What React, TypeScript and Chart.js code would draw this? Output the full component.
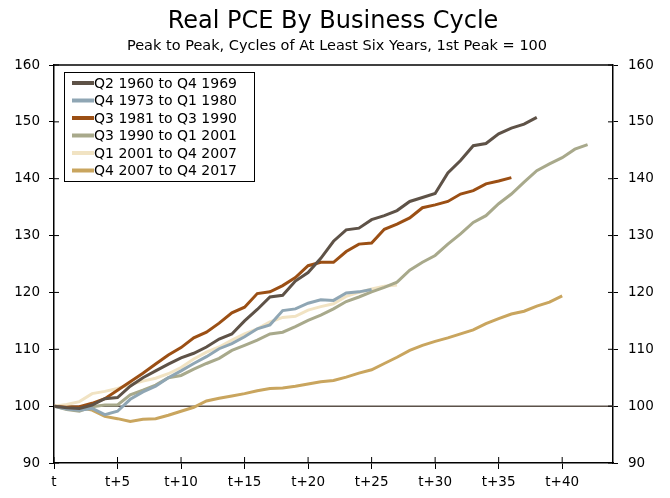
import { useEffect, useRef } from "react";
import { Chart, registerables } from "chart.js";

Chart.register(...registerables);

const chartTitle = "Real PCE By Business Cycle";
const chartSubtitle = "Peak to Peak, Cycles of At Least Six Years, 1st Peak = 100";

const seriesNames = [
  "Q2 1960 to Q4 1969",
  "Q4 1973 to Q1 1980",
  "Q3 1981 to Q3 1990",
  "Q3 1990 to Q1 2001",
  "Q1 2001 to Q4 2007",
  "Q4 2007 to Q4 2017",
];

const seriesColors = ["#5e5247", "#8fa6b4", "#9b4f14", "#a8a98b", "#f1e3c3", "#c9a55e"];

const cycle1960 = [
  100, 99.7, 99.6, 100.2, 101.3, 101.5, 103.5, 105, 106.2, 107.4, 108.5, 109.3, 110.4, 111.8,
  112.7, 115, 117, 119.2, 119.5, 122, 123.5, 126, 129, 131, 131.3, 132.8, 133.5, 134.4, 136,
  136.7, 137.4, 141, 143.2, 145.8, 146.2, 147.9, 148.9, 149.6, 150.8,
];
const cycle1973 = [
  100, 99.5, 99.3, 99.6, 98.5, 99.1, 101.2, 102.5, 103.5, 105, 106.2, 107.5, 108.7, 110.1,
  111, 112.2, 113.6, 114.3, 116.8, 117.1, 118.1, 118.7, 118.6, 119.9, 120.1, 120.5,
];
const cycle1981 = [
  100, 99.8, 99.9, 100.5, 101.3, 102.8, 104.3, 105.8, 107.4, 109, 110.3, 112, 113, 114.6,
  116.4, 117.4, 119.8, 120.1, 121.2, 122.6, 124.7, 125.3, 125.3, 127.2, 128.5, 128.7, 131.1,
  132, 133.1, 134.9, 135.4, 136, 137.3, 137.9, 139.1, 139.6, 140.2,
];
const cycle1990 = [
  100, 99.4, 99.1, 99.9, 100.2, 100.2, 102, 102.8, 103.7, 105, 105.4, 106.5, 107.5, 108.4,
  109.8, 110.7, 111.6, 112.7, 113, 114, 115.1, 116, 117.1, 118.4, 119.2, 120.1, 120.9, 121.8,
  123.9, 125.3, 126.5, 128.5, 130.3, 132.3, 133.5, 135.6, 137.3, 139.4, 141.4, 142.6, 143.7,
  145.2, 146,
];
const cycle2001 = [
  100, 100.3, 100.8, 102.2, 102.6, 103.1, 103.8, 104.4, 104.9, 105.7, 106.8, 108.3, 109.5,
  110.4, 111.6, 112.7, 113.6, 114.8, 115.6, 115.8, 116.9, 117.5, 118, 119.3, 120, 120.6, 121.1,
  121.3,
];
const cycle2007 = [
  100, 99.9, 99.7, 99.3, 98.2, 97.8, 97.3, 97.7, 97.8, 98.4, 99.1, 99.8, 100.9, 101.4, 101.8,
  102.2, 102.7, 103.1, 103.2, 103.5, 103.9, 104.3, 104.5, 105.1, 105.8, 106.4, 107.5, 108.6,
  109.8, 110.7, 111.4, 112, 112.7, 113.4, 114.5, 115.4, 116.2, 116.7, 117.6, 118.3, 119.4,
];

const allSeries = [cycle1960, cycle1973, cycle1981, cycle1990, cycle2001, cycle2007];

const xMin = 0;
const xMax = 44;
const xStep = 5;
const xTickLabel = (q: number) => (q === 0 ? "t" : "t+" + q);
const yMin = 90;
const yMax = 160;
const yStep = 10;
const baselineValue = 100;

const FONT = '"DejaVu Sans", Verdana, sans-serif';

const decorPlugin = {
  id: "decor",
  beforeDatasetsDraw(chart: any) {
    const { ctx, chartArea } = chart;
    const { left, right, top, bottom } = chartArea;
    const xs = chart.scales.x;
    const ys = chart.scales.y;
    ctx.save();
    const line = (x1: number, y1: number, x2: number, y2: number) => {
      ctx.beginPath();
      ctx.moveTo(x1, y1);
      ctx.lineTo(x2, y2);
      ctx.stroke();
    };
    ctx.strokeStyle = "#5b5149";
    ctx.lineWidth = 1.5;
    const yb = ys.getPixelForValue(baselineValue);
    line(left, yb, right, yb);
    ctx.strokeStyle = "#000";
    ctx.lineWidth = 1.5;
    line(left, top, right, top);
    ctx.lineWidth = 1;
    for (let v = yMin; v <= yMax; v += yStep) {
      const py = ys.getPixelForValue(v);
      line(left, py, left + 5, py);
      line(right - 5, py, right, py);
    }
    for (let q = xMin; q <= xMax; q += xStep) {
      const px = xs.getPixelForValue(q);
      line(px, bottom, px, bottom - 6);
    }
    ctx.restore();
  },
  afterDraw(chart: any) {
    const { ctx } = chart;
    ctx.save();
    ctx.fillStyle = "#000";
    ctx.textAlign = "center";
    ctx.textBaseline = "middle";
    ctx.font = "24px " + FONT;
    ctx.fillText(chartTitle, 333, 22);
    ctx.font = "14.5px " + FONT;
    ctx.fillText(chartSubtitle, 337, 46);

    const bx = 64;
    const by = 72;
    const bw = 190;
    const bh = 109;
    ctx.fillStyle = "#fff";
    ctx.fillRect(bx, by, bw, bh);
    ctx.strokeStyle = "#000";
    ctx.lineWidth = 1;
    ctx.strokeRect(bx + 0.5, by + 0.5, bw, bh);
    ctx.font = "14px " + FONT;
    ctx.textAlign = "left";
    seriesNames.forEach((name, i) => {
      const cy = by + 11 + i * 17.5;
      ctx.strokeStyle = seriesColors[i];
      ctx.lineWidth = 4;
      ctx.beginPath();
      ctx.moveTo(72, cy);
      ctx.lineTo(94, cy);
      ctx.stroke();
      ctx.fillStyle = "#000";
      ctx.fillText(name, 94, cy + 1);
    });
    ctx.restore();
  },
};

export default function App() {
  const ref = useRef<HTMLCanvasElement>(null);
  useEffect(() => {
    document.body.style.margin = "0";
    const canvas = ref.current!;
    const tickFont = { family: FONT, size: 13.5 };
    const chart = new Chart(canvas, {
      type: "line",
      data: {
        datasets: allSeries.map((vals, i) => ({
          label: seriesNames[i],
          data: vals.map((v, q) => ({ x: q, y: v })),
          borderColor: seriesColors[i],
          backgroundColor: seriesColors[i],
          borderWidth: 3,
          pointRadius: 0,
          tension: 0,
          fill: false,
          yAxisID: "y",
        })),
      },
      options: {
        responsive: false,
        animation: false,
        devicePixelRatio: 1,
        layout: { padding: { top: 65, left: 0, right: 0, bottom: 0 } },
        plugins: {
          legend: { display: false },
          title: { display: false },
          tooltip: { enabled: false },
        },
        scales: {
          x: {
            type: "linear",
            min: xMin,
            max: xMax,
            grid: { drawOnChartArea: false, color: "#000", tickLength: 6, lineWidth: 1 },
            border: { color: "#000", width: 1.5 },
            ticks: {
              stepSize: xStep,
              autoSkip: false,
              maxRotation: 0,
              padding: 5,
              color: "#000",
              font: tickFont,
              callback: (v: any) => xTickLabel(Number(v)),
            },
            afterBuildTicks: (s: any) => {
              s.ticks = s.ticks.filter((t: any) => t.value % xStep === 0);
            },
            afterFit: (s: any) => {
              s.height = 35;
            },
          },
          y: {
            position: "left",
            min: yMin,
            max: yMax,
            grid: { drawOnChartArea: false, color: "#000", tickLength: 5, lineWidth: 1 },
            border: { color: "#000", width: 1.5 },
            ticks: { stepSize: yStep, padding: 9, color: "#000", font: tickFont },
            afterFit: (s: any) => {
              s.width = 54;
            },
          },
          y2: {
            position: "right",
            min: yMin,
            max: yMax,
            grid: { drawOnChartArea: false, color: "#000", tickLength: 5, lineWidth: 1 },
            border: { color: "#000", width: 1.5 },
            ticks: { stepSize: yStep, padding: 10, color: "#000", font: tickFont },
            afterFit: (s: any) => {
              s.width = 57;
            },
          },
        },
      },
      plugins: [decorPlugin],
    } as any);
    return () => chart.destroy();
  }, []);
  return (
    <div style={{ position: "relative", width: 670, height: 498 }}>
      <canvas ref={ref} width={670} height={498} />
    </div>
  );
}
